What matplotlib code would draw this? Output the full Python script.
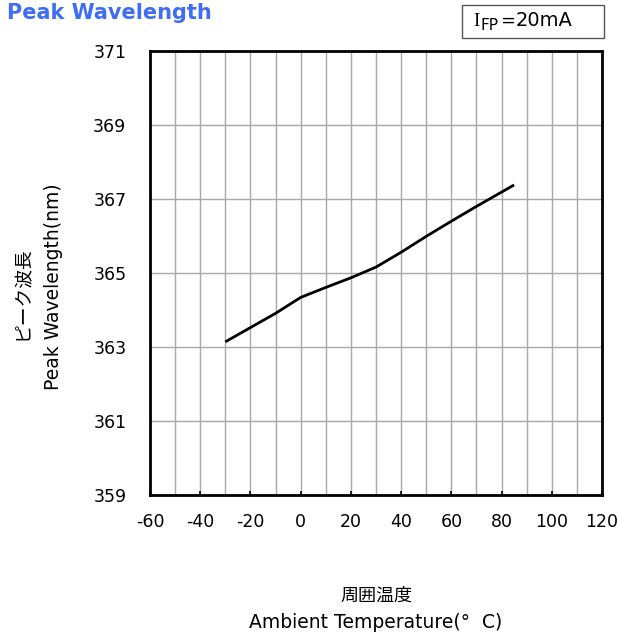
import matplotlib
matplotlib.use("Agg")
import matplotlib.pyplot as plt
from matplotlib.ticker import MultipleLocator
from matplotlib.patches import Rectangle

plt.rcParams['font.family'] = ['DejaVu Sans', 'Noto Sans CJK JP']
plt.rcParams['axes.unicode_minus'] = False

temperature = [-30, -10, 0, 10, 20, 30, 40, 50, 60, 70, 85]
wavelength = [363.14, 363.91, 364.34, 364.61, 364.87, 365.16, 365.56, 365.99, 366.40, 366.80, 367.38]

x_ticks = [-60, -40, -20, 0, 20, 40, 60, 80, 100, 120]
y_ticks = [359, 361, 363, 365, 367, 369, 371]

title = "Peak Wavelength"
ylabel_jp = "ピーク波長"
ylabel_en = "Peak Wavelength(nm)"
xlabel_jp = "周囲温度"
xlabel_en = "Ambient Temperature(°  C)"

W, H = 618, 633
fig = plt.figure(figsize=(W/100, H/100), dpi=100)
ax = fig.add_axes([150/W, 1-495/H, (602-150)/W, (495-51)/H])

ax.plot(temperature, wavelength, color='black', lw=2, solid_capstyle='butt',
        solid_joinstyle='round')

ax.set_xlim(-60, 120)
ax.set_ylim(359, 371)
ax.set_xticks(x_ticks)
ax.set_yticks(y_ticks)
ax.xaxis.set_minor_locator(MultipleLocator(10))
ax.grid(True, which='major', axis='both', color='#a8a8a8', lw=1.0)
ax.grid(True, which='minor', axis='x', color='#a8a8a8', lw=1.0)
ax.tick_params(axis='x', which='major', direction='in', length=3, width=1.2,
               labelsize=12.5, pad=13)
ax.tick_params(axis='both', which='minor', length=0)
ax.tick_params(axis='y', length=0, labelsize=12.5, pad=17)
for s in ax.spines.values():
    s.set_linewidth(2)
    s.set_color('black')
ax.set_axisbelow(True)

fig.text(7/W, 1-13/H, title, color='#3f6df5', fontsize=15, fontweight='bold',
         ha='left', va='center')

# condition box
fig.add_artist(Rectangle((462/W, 1-38/H), (604-462)/W, (38-5)/H, transform=fig.transFigure,
                         fc='white', ec='#555555', lw=1))
fig.text(473/W, 1-21/H, 'I', family='Liberation Serif', fontsize=13.5, ha='left', va='center')
fig.text(481/W, 1-25/H, 'FP', fontsize=11, ha='left', va='center')
fig.text(500/W, 1-21/H, '=', fontsize=13, ha='left', va='center')
fig.text(516/W, 1-21/H, '20mA', fontsize=14, ha='left', va='center')

fig.text(22/W, 1-293/H, ylabel_jp, fontsize=13.5, rotation=90, ha='center', va='center')
fig.text(54/W, 1-287/H, ylabel_en, fontsize=13.5, rotation=90, ha='center', va='center')
fig.text(376/W, 1-596/H, xlabel_jp, fontsize=13, ha='center', va='center')
fig.text(376/W, 1-622/H, xlabel_en, fontsize=13.5, ha='center', va='center')

fig.savefig("out.png", dpi=100)
